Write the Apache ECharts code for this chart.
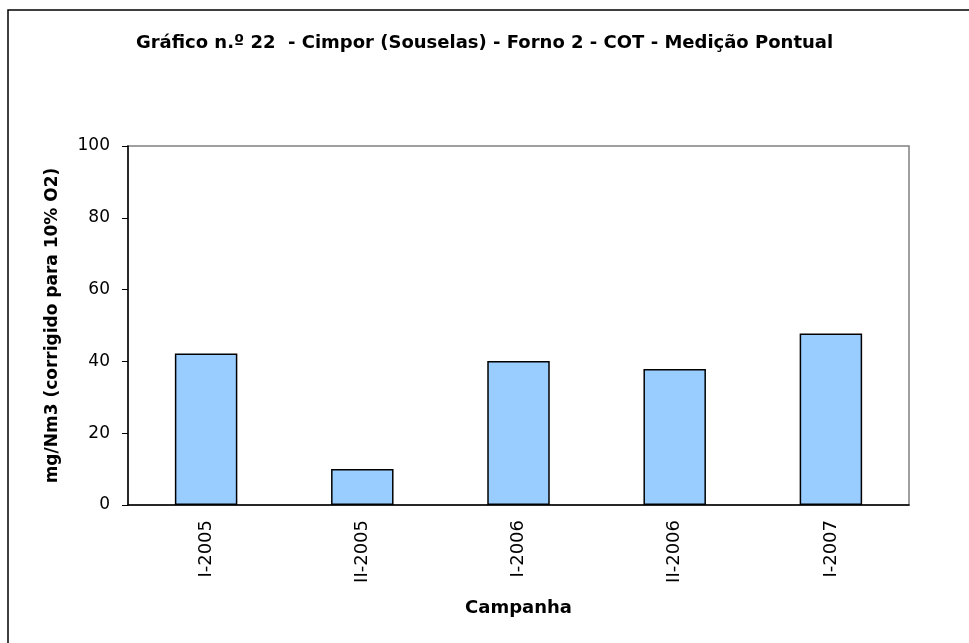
<!DOCTYPE html>
<html>
<head>
<meta charset="utf-8">
<script src="https://cdn.jsdelivr.net/npm/echarts@6/dist/echarts.min.js"></script>
<style>
  html, body { margin: 0; padding: 0; background: #fff; }
  #chart { width: 969px; height: 643px; }
</style>
</head>
<body>
<div id="chart"></div>
<script>
// categorias (campanhas) e valores de COT
const categories = ['I-2005', 'II-2005', 'I-2006', 'II-2006', 'I-2007']
const values = [42.2, 10, 40.1, 37.9, 47.8]
const yMin = 0
const yMax = 100
const yStep = 20

const chart = echarts.init(document.getElementById('chart'))
const font = 'DejaVu Sans, sans-serif'

const option = {
  backgroundColor: '#ffffff',
  animation: false,
  title: {
    text: 'Gráfico n.º 22  - Cimpor (Souselas) - Forno 2 - COT - Medição Pontual',
    left: 'center',
    top: 29,
    textStyle: {
      fontFamily: font,
      fontSize: 18,
      fontWeight: 'bold',
      color: '#000',
    },
  },
  graphic: [
    {
      type: 'rect',
      shape: { x: 8, y: 10, width: 1000, height: 700 },
      style: { fill: 'none', stroke: '#000', lineWidth: 1.5 },
      silent: true,
    },
  ],
  grid: {
    left: 128,
    top: 146,
    right: 60,
    bottom: 138,
    show: true,
    borderColor: '#808080',
    borderWidth: 1.5,
  },
  xAxis: {
    type: 'category',
    data: categories,
    name: 'Campanha',
    nameLocation: 'middle',
    nameGap: 94,
    nameTextStyle: {
      fontFamily: font,
      fontSize: 18,
      fontWeight: 'bold',
      color: '#000',
    },
    axisLine: { lineStyle: { color: '#000', width: 1.5 } },
    axisTick: { show: false },
    axisLabel: {
      rotate: 90,
      margin: 15,
      fontFamily: font,
      fontSize: 18,
      color: '#000',
    },
  },
  yAxis: {
    type: 'value',
    min: yMin,
    max: yMax,
    interval: yStep,
    name: 'mg/Nm3 (corrigido para 10% O2)',
    nameLocation: 'middle',
    nameGap: 67,
    nameTextStyle: {
      fontFamily: font,
      fontSize: 17,
      fontWeight: 'bold',
      color: '#000',
    },
    axisLine: { show: true, lineStyle: { color: '#000', width: 1.5 } },
    axisTick: { show: true, length: 6, lineStyle: { color: '#000' } },
    splitLine: { show: false },
    axisLabel: {
      margin: 18,
      fontFamily: font,
      fontSize: 17,
      color: '#000',
    },
  },
  series: [
    {
      type: 'bar',
      data: values,
      barWidth: '40%',
      itemStyle: {
        color: '#99ccff',
        borderColor: '#000',
        borderWidth: 1.5,
      },
    },
  ],
}

chart.setOption(option)
</script>
</body>
</html>
